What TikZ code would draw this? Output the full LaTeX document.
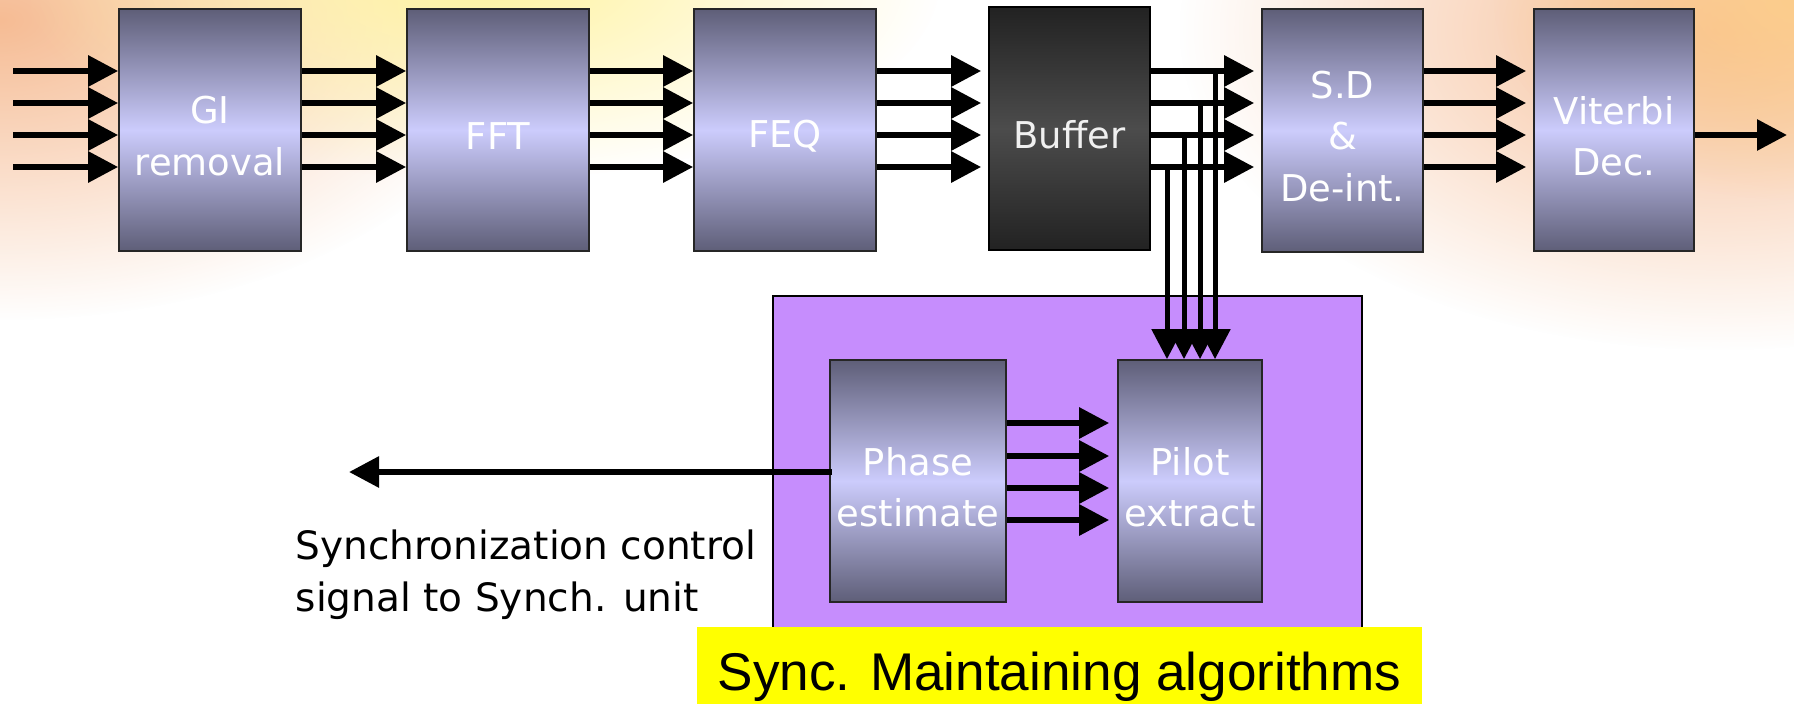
\documentclass[tikz,border=0pt]{standalone}
\usepackage{fontspec}
\setmainfont{Liberation Sans}
\newfontfamily\djsans{DejaVu Sans}
\usetikzlibrary{arrows.meta,fadings}
\tikzfading[name=glowfade, inner color=transparent!0, outer color=transparent!100]
\definecolor{boxdark}{RGB}{94,94,120}
\definecolor{boxlight}{RGB}{204,204,252}
\definecolor{bufdark}{RGB}{34,34,34}
\definecolor{buflight}{RGB}{76,76,76}
\definecolor{purplebg}{RGB}{198,141,253}
\definecolor{peach}{RGB}{246,188,148}
\definecolor{paleyellow}{RGB}{255,243,160}
\definecolor{orangeglow}{RGB}{252,205,140}
\definecolor{titleyellow}{RGB}{255,255,0}
\begin{document}
\begin{tikzpicture}[x=0.01cm,y=-0.01cm,
  blk/.style={draw=black!85, line width=0.45pt, top color=boxdark, bottom color=boxdark, middle color=boxlight, inner sep=0pt},
  bufblk/.style={draw=black, line width=0.45pt, top color=bufdark, bottom color=bufdark, middle color=buflight, inner sep=0pt},
  boxtext/.style={text=white, font=\djsans\fontsize{10.5}{14.6}\selectfont, align=center, inner sep=0pt, yshift=-0.06cm},
  arr/.style={line width=0.06cm, -{Triangle[length=0.3cm,width=0.3cm]}},
  varr/.style={line width=0.05cm, -{Triangle[length=0.3cm,width=0.3cm]}},
]
\useasboundingbox (0,0) rectangle (1794,703);
\fill[white] (0,0) rectangle (1794,703);
% background glow
\begin{scope}
\clip (0,0) rectangle (1794,703);
\fill[peach, path fading=glowfade] (0,20) ellipse [x radius=5.2cm, y radius=3.0cm];
\fill[paleyellow, path fading=glowfade] (480,-20) ellipse [x radius=4.6cm, y radius=2.0cm];
\fill[peach, path fading=glowfade] (1720,30) ellipse [x radius=5.4cm, y radius=3.2cm];
\fill[orangeglow, path fading=glowfade] (1794,0) ellipse [x radius=3cm, y radius=2cm];
\end{scope}

% top row blocks
\node[blk, minimum width=1.82cm, minimum height=2.42cm, label={[boxtext]center:GI\\removal}] (gi) at (210,130) {};
\node[blk, minimum width=1.82cm, minimum height=2.42cm, label={[boxtext]center:FFT}] (fft) at (498,130) {};
\node[blk, minimum width=1.82cm, minimum height=2.42cm, label={[boxtext]center:FEQ}] (feq) at (785,130) {};
\node[bufblk, minimum width=1.61cm, minimum height=2.43cm, label={[boxtext, text=black!6]center:Buffer}] (buf) at (1069.5,128.5) {};
\node[blk, minimum width=1.61cm, minimum height=2.43cm, label={[boxtext]center:S.D\\\&\\De-int.}] (sd) at (1342.5,130.5) {};
\node[blk, minimum width=1.60cm, minimum height=2.42cm, label={[boxtext]center:Viterbi\\Dec.}] (vit) at (1614,130) {};

% sync area
\node[draw=black, line width=0.45pt, fill=purplebg, minimum width=5.89cm, minimum height=3.34cm, inner sep=0pt] (sync) at (1067.5,463) {};
\node[blk, minimum width=1.76cm, minimum height=2.42cm, label={[boxtext]center:Phase\\estimate}] (phase) at (918,481) {};
\node[blk, minimum width=1.44cm, minimum height=2.42cm, label={[boxtext]center:Pilot\\extract}] (pilot) at (1190,481) {};

% top row arrows
\foreach \y in {71,103,135,167} {
  \coordinate (in-\y) at (13,\y);
  \draw[arr] (in-\y) -- (gi.west |- 0,\y);
  \draw[arr] (gi.east |- 0,\y) -- (fft.west |- 0,\y);
  \draw[arr] (fft.east |- 0,\y) -- (feq.west |- 0,\y);
  \draw[arr, shorten >=0.07cm] (feq.east |- 0,\y) -- (buf.west |- 0,\y);
  \draw[arr, shorten >=0.07cm] (buf.east |- 0,\y) -- (sd.west |- 0,\y);
  \draw[arr, shorten >=0.07cm] (sd.east |- 0,\y) -- (vit.west |- 0,\y);
}
\coordinate (out) at (1787,135);
\draw[arr] (vit.east |- out) -- (out);

% drops from buffer outputs to pilot extract
\foreach \dx/\y in {0.25cm/71, 0.10cm/103, -0.06cm/135, -0.23cm/167} {
  \draw[varr] ([xshift=\dx]pilot.north |- 0,\y) -- ([xshift=\dx]pilot.north);
}

% phase -> pilot
\foreach \y in {423,456,488,520} {
  \draw[arr, shorten >=0.08cm] (phase.east |- 0,\y) -- (pilot.west |- 0,\y);
}

% control signal
\coordinate (sig) at (349,472);
\draw[arr] ([xshift=0.03cm]phase.west |- sig) -- (sig);
\node[anchor=north west, inner sep=0pt, align=left, font=\djsans\fontsize{11.1}{14.8}\selectfont] (sigtext) at (295,529) {Synchronization control\\signal to Synch. unit};

% title
\node[fill=titleyellow, minimum width=7.25cm, minimum height=0.76cm, inner sep=0pt,
  label={[font=\fontsize{15.1}{18}\selectfont, inner sep=0pt, yshift=-0.11cm]center:Sync. Maintaining algorithms}] (title) at (1059.5,665.5) {};
\end{tikzpicture}
\end{document}
